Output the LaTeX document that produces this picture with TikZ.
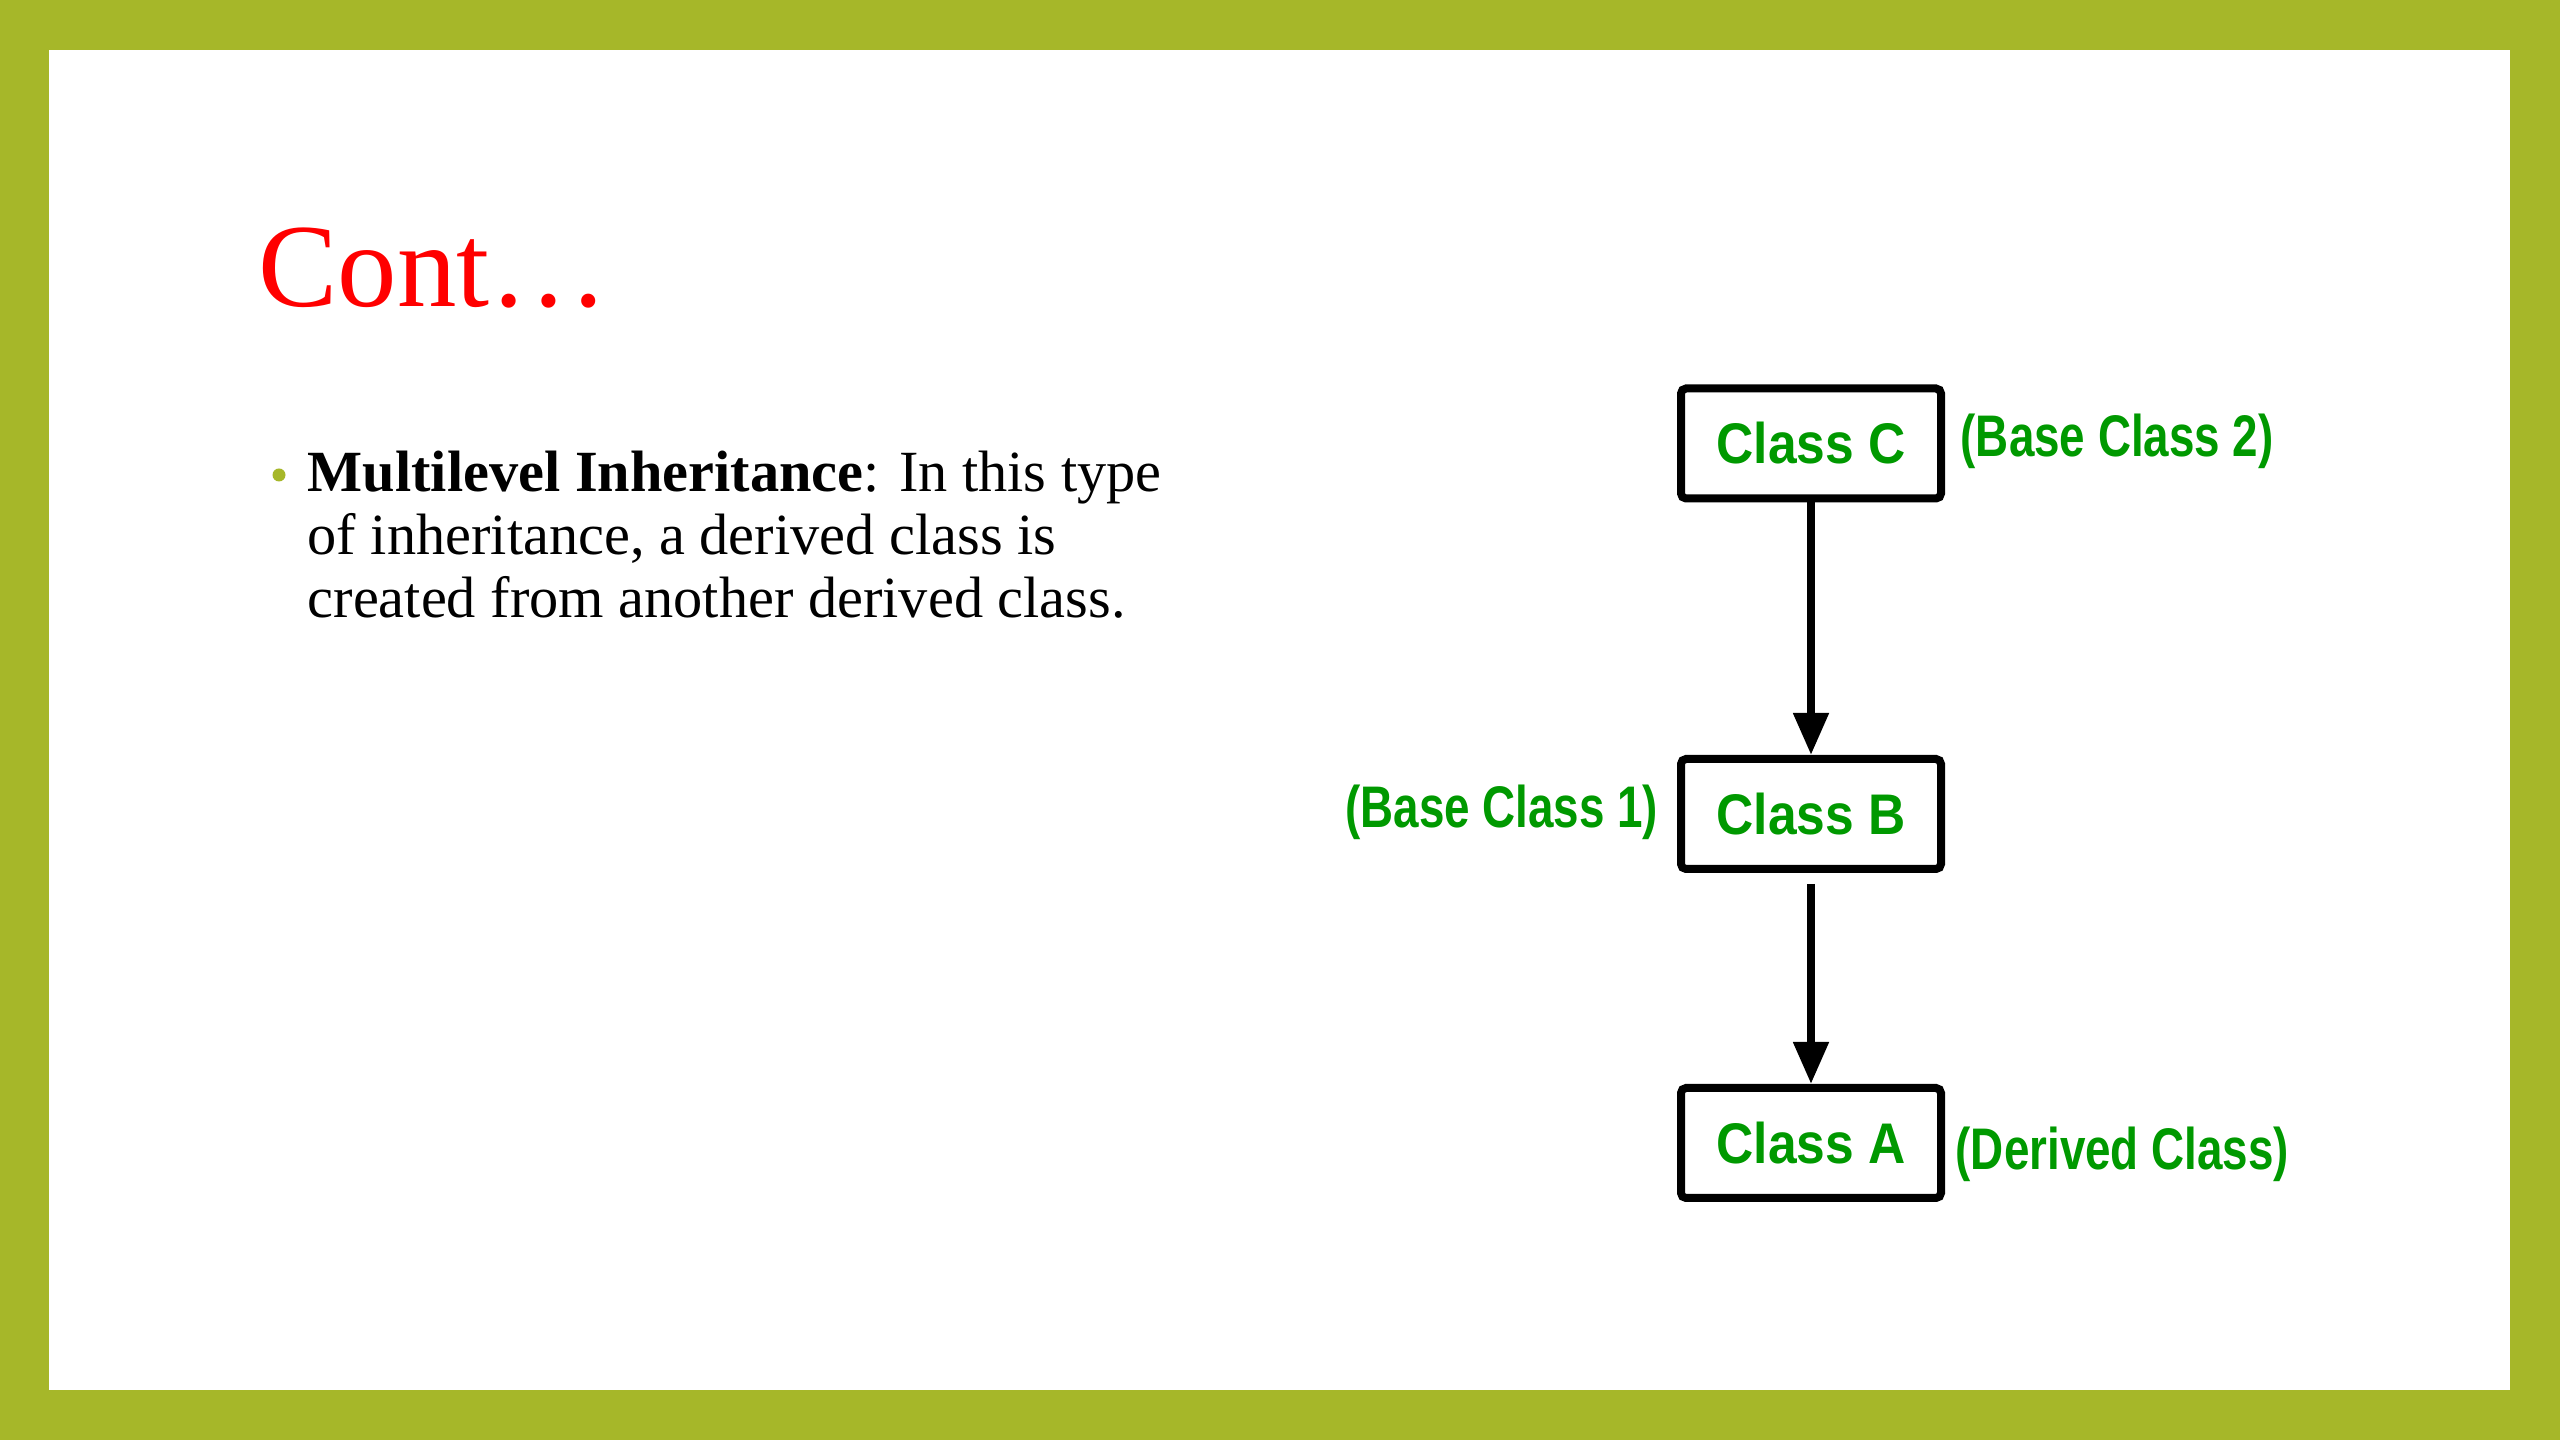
\documentclass[tikz,border=0pt]{standalone}
\usepackage{fontspec}
\setmainfont{Liberation Serif}
\newfontfamily\arialf{Liberation Sans}
\usetikzlibrary{arrows.meta}
\definecolor{olivebar}{RGB}{166,183,41}
\definecolor{classgreen}{RGB}{0,153,0}
\definecolor{titlered}{RGB}{255,0,0}
\tikzset{
  classbox/.style={draw=black, line width=0.8mm, rounded corners=0.5mm, fill=white,
    minimum width=26mm, minimum height=11mm, inner sep=0pt,
    font=\arialf\bfseries\fontsize{16.3pt}{19pt}\selectfont, text=classgreen},
  sidelabel/.style={inner sep=0pt, text=classgreen,
    font=\arialf\bfseries\fontsize{16.7pt}{20pt}\selectfont},
  bodyline/.style={inner sep=0pt, anchor=base west, text=black,
    font=\fontsize{16.6pt}{18pt}\selectfont},
  inherit/.style={draw=black, line width=0.8mm,
    -{Triangle[length=4.2mm, width=3.4mm]}}
}
\begin{document}
\begin{tikzpicture}[x=0.1mm, y=-0.1mm]
  \useasboundingbox (0,0) rectangle (2560,1440);
  \fill[olivebar] (0,0) rectangle (2560,1440);
  \fill[white] (49,50) rectangle (2510,1390);

  % title
  \node[inner sep=0pt, anchor=base west, text=titlered,
        font=\fontsize{33.8pt}{40pt}\selectfont] (title) at (258,307) {Cont…};

  % bullet text
  \fill[olivebar] (279,475) circle (6.5);
  \node[bodyline] (l1) at (307,492) {\textbf{Multilevel Inheritance}: In this type};
  \node[bodyline] (l2) at (307,555) {of inheritance, a derived class is};
  \node[bodyline] (l3) at (307,618) {created from another derived class.};

  % class boxes
  \node[classbox] (C) at (1811,443.5) {\scalebox{0.9}[1]{Class C}};
  \node[classbox] (B) at (1811,814) {\scalebox{0.9}[1]{Class B}};
  \node[classbox] (A) at (1811,1143) {\scalebox{0.9}[1]{Class A}};

  % side labels
  \node[sidelabel, anchor=base west] (lc) at (1960,457) {\scalebox{0.78}[1]{(Base Class 2)}};
  \node[sidelabel, anchor=base east] (lb) at (1659,828) {\scalebox{0.78}[1]{(Base Class 1)}};
  \node[sidelabel, anchor=base west] (la) at (1955,1170) {\scalebox{0.78}[1]{(Derived Class)}};

  % connectors
  \draw[inherit] (C.south) -- (B.north);
  \draw[inherit, shorten <=1.1mm] (B.south) -- (A.north);
\end{tikzpicture}
\end{document}
